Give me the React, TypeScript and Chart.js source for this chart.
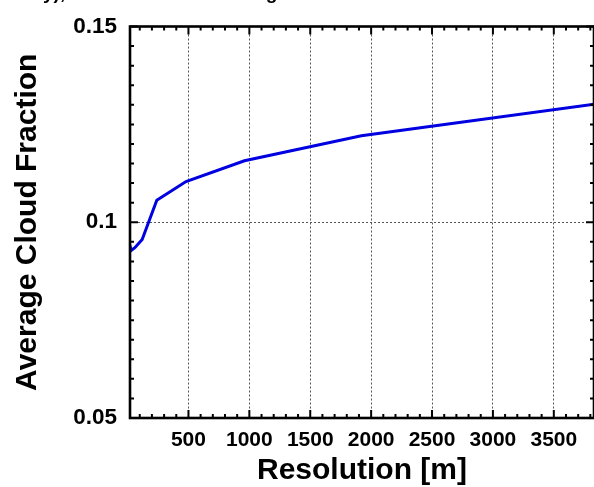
import { useEffect, useRef } from "react";
import { Chart, registerables } from "chart.js";

Chart.register(...registerables);

// Data
const resolution = [15, 30, 60, 120, 240, 480, 960, 1920, 3840];
const cloudFraction = [0.0945, 0.0928, 0.0935, 0.0956, 0.1056, 0.1104, 0.1157, 0.1221, 0.1302];
const xTickValues = [500, 1000, 1500, 2000, 2500, 3000, 3500];
const yTickValues = [0.05, 0.1, 0.15];
const yTickLabels = ["0.05", "0.1", "0.15"];
const titleText = "Resolution Sensitivity), Cloud Fraction Scaling";

const X_MIN = 20;
const X_MAX = 3830;
const Y_MIN = 0.05;
const Y_MAX = 0.15;

const FONT = "'Liberation Sans', Arial, Helvetica, sans-serif";

const framePlugin = {
  id: "frame",
  afterDatasetsDraw(chart: any) {
    const { ctx, chartArea } = chart;
    const { left, right, top, bottom } = chartArea;
    const xs = chart.scales.x;
    const ys = chart.scales.y;
    ctx.save();
    ctx.strokeStyle = "#000";
    ctx.lineWidth = 2;
    ctx.beginPath();
    for (let k = 1; k * 100 < X_MAX; k++) {
      const v = k * 100;
      const px = xs.getPixelForValue(v);
      if (px < left || px > right) continue;
      const len = k % 5 === 0 ? 8 : 4;
      ctx.moveTo(px, bottom);
      ctx.lineTo(px, bottom - len);
      ctx.moveTo(px, top);
      ctx.lineTo(px, top + len);
    }
    for (let k = 10; k <= 30; k++) {
      const v = k * 0.005;
      const py = ys.getPixelForValue(v);
      const len = k % 10 === 0 ? 8 : 4;
      ctx.moveTo(left, py);
      ctx.lineTo(left + len, py);
      ctx.moveTo(right, py);
      ctx.lineTo(right - len, py);
    }
    ctx.stroke();
    ctx.lineWidth = 2.6;
    ctx.strokeRect(left, top, right - left, bottom - top);
    ctx.restore();
  },
  afterDraw(chart: any) {
    const { ctx } = chart;
    ctx.save();
    ctx.font = `bold 19px ${FONT}`;
    ctx.fillStyle = "#000";
    ctx.textBaseline = "alphabetic";
    ctx.textAlign = "left";
    const pre = ctx.measureText("Resolution Sensitivit").width;
    ctx.fillText(titleText, 43 - pre, -1.5);
    ctx.restore();
  },
};

export default function App() {
  const ref = useRef<HTMLCanvasElement | null>(null);

  useEffect(() => {
    if (!ref.current) return;
    const chart = new Chart(ref.current, {
      type: "line",
      data: {
        datasets: [
          {
            data: resolution.map((r, i) => ({ x: r, y: cloudFraction[i] })),
            borderColor: "#0000e0",
            borderWidth: 3,
            pointRadius: 0,
            fill: false,
            tension: 0,
          },
        ],
      },
      options: {
        animation: false,
        responsive: false,
        maintainAspectRatio: false,
        layout: { padding: { top: 24, right: 0, left: 0, bottom: 0 } },
        plugins: {
          legend: { display: false },
          tooltip: { enabled: false },
          title: { display: false },
        },
        scales: {
          x: {
            type: "linear",
            min: X_MIN,
            max: X_MAX,
            afterBuildTicks: (s: any) => {
              s.ticks = xTickValues.map((v) => ({ value: v }));
            },
            afterFit: (s: any) => {
              s.height = 69;
            },
            grid: { color: "#555", lineWidth: 1, drawTicks: false },
            border: { display: false, dash: [2, 2] },
            ticks: {
              color: "#000",
              font: { family: FONT, size: 21, weight: "bold" },
              padding: 10,
              maxRotation: 0,
              autoSkip: false,
              callback: (v: any) => String(v),
            },
            title: {
              display: true,
              text: "Resolution [m]",
              color: "#000",
              font: { family: FONT, size: 30, weight: "bold" },
              padding: { top: 0, bottom: -2 },
            },
          },
          y: {
            type: "linear",
            min: Y_MIN,
            max: Y_MAX,
            afterBuildTicks: (s: any) => {
              s.ticks = yTickValues.map((v) => ({ value: v }));
            },
            afterFit: (s: any) => {
              s.width = 130;
            },
            grid: { color: "#555", lineWidth: 1, drawTicks: false },
            border: { display: false, dash: [2, 2] },
            ticks: {
              color: "#000",
              font: { family: FONT, size: 22.5, weight: "bold" },
              padding: 13,
              autoSkip: false,
              callback: (v: any) => {
                const i = yTickValues.indexOf(v);
                return i >= 0 ? yTickLabels[i] : "";
              },
            },
            title: {
              display: true,
              text: "Average Cloud Fraction",
              color: "#000",
              font: { family: FONT, size: 30, weight: "bold" },
              padding: { top: 10, bottom: 0 },
            },
          },
        },
      } as any,
      plugins: [framePlugin],
    });
    return () => chart.destroy();
  }, []);

  return (
    <div style={{ position: "fixed", left: 0, top: 0, width: 594, height: 487, background: "#fff" }}>
      <canvas ref={ref} width={594} height={487} style={{ display: "block" }} />
    </div>
  );
}
